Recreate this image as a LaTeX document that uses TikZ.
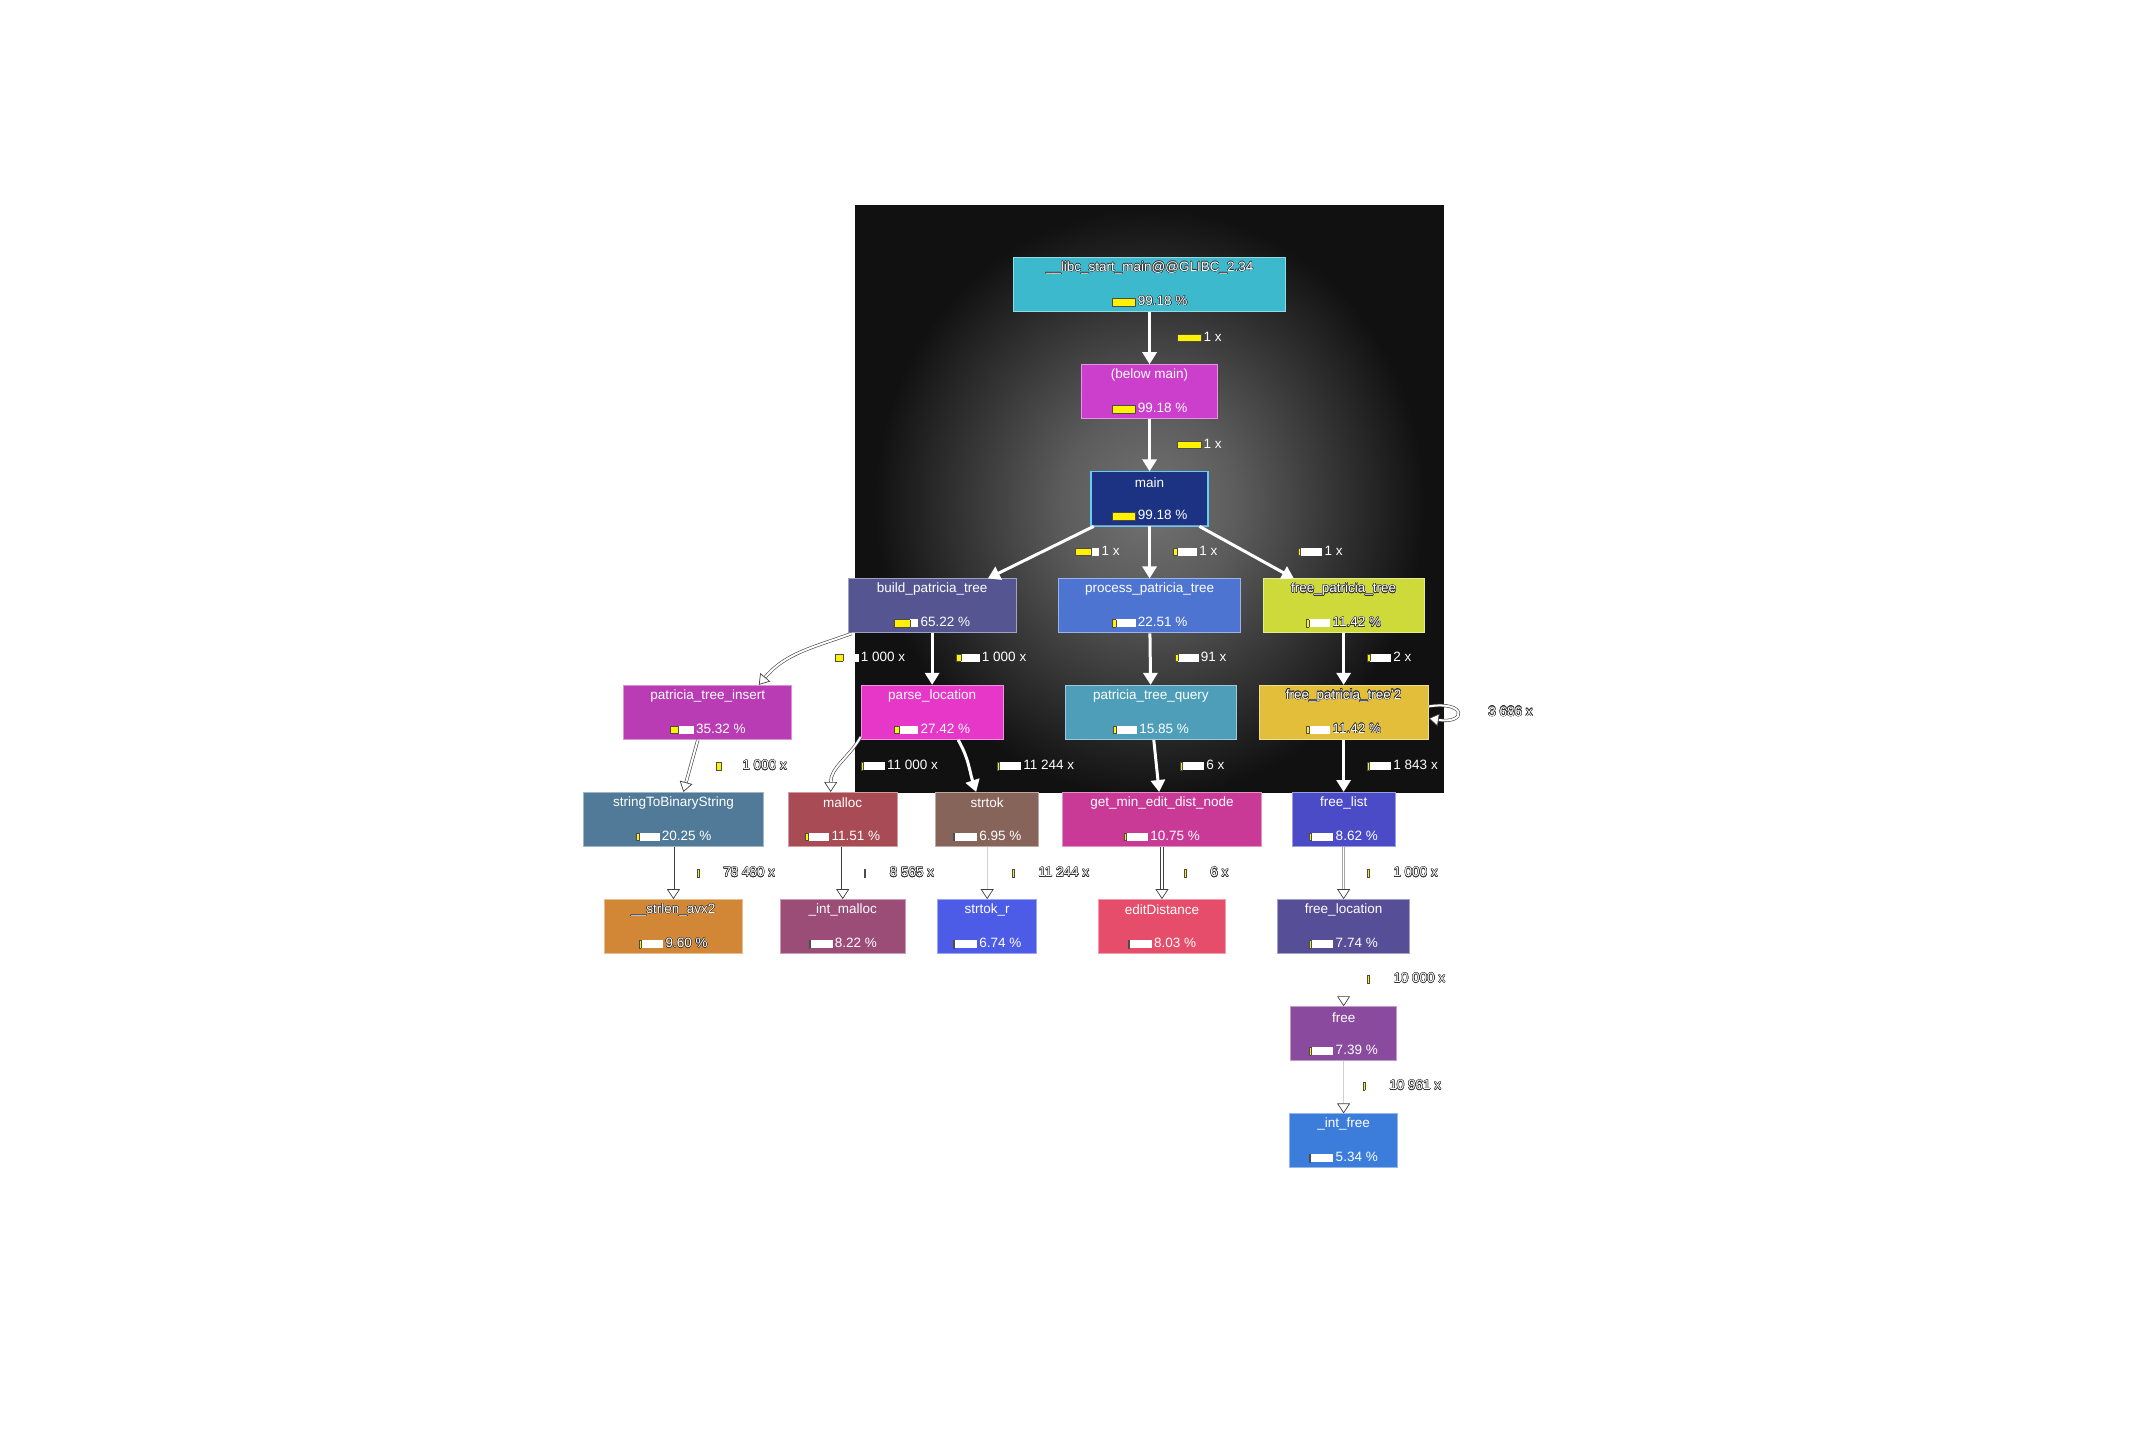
\documentclass[tikz,border=0pt]{standalone}
\usepackage{fontspec}
\setmainfont{Liberation Sans}
\usepackage{contour}
\contourlength{0.45pt}
\usetikzlibrary{arrows.meta, calc}

\definecolor{cyan1}{RGB}{60, 185, 205}
\definecolor{magenta1}{RGB}{204, 62, 204}
\definecolor{navy1}{RGB}{28, 50, 130}
\definecolor{slate1}{RGB}{84, 85, 145}
\definecolor{blue1}{RGB}{78, 116, 210}
\definecolor{lime1}{RGB}{205, 218, 58}
\definecolor{purple1}{RGB}{185, 60, 180}
\definecolor{pink1}{RGB}{230, 55, 200}
\definecolor{teal1}{RGB}{78, 158, 185}
\definecolor{gold1}{RGB}{226, 190, 58}
\definecolor{steel1}{RGB}{80, 122, 152}
\definecolor{brick1}{RGB}{168, 75, 85}
\definecolor{brown1}{RGB}{135, 100, 90}
\definecolor{rose1}{RGB}{200, 58, 150}
\definecolor{indigo1}{RGB}{75, 75, 200}
\definecolor{orange1}{RGB}{210, 135, 55}
\definecolor{plum1}{RGB}{155, 77, 120}
\definecolor{royal1}{RGB}{76, 92, 230}
\definecolor{coral1}{RGB}{230, 77, 106}
\definecolor{dusk1}{RGB}{87, 78, 152}
\definecolor{orchid1}{RGB}{138, 75, 158}
\definecolor{sky1}{RGB}{60, 125, 220}
\definecolor{panel1}{RGB}{17, 17, 17}

\pgfdeclareradialshading{glow}{\pgfpointorigin}{%
  color(0bp)=(black!55); color(8bp)=(black!64); color(16bp)=(black!78);
  color(25bp)=(panel1); color(50bp)=(panel1)}

\newlength\barw
\setlength\barw{23pt}
\newcommand{\cbar}[1]{\begingroup\setlength\fboxsep{0pt}\setlength\fboxrule{0.5pt}%
  \colorbox{white}{\fcolorbox{black!70}{yellow}{\rule{0pt}{7pt}\hspace{#1\barw}}\hspace{\dimexpr\barw-#1\barw\relax}}\endgroup}
\newcommand{\hollow}[1]{\contour{black!80}{#1}}

\tikzset{
  fnbox/.style={rectangle, minimum height=54pt, inner sep=0pt, line width=1pt},
  fntext/.style={text=white, font=\fontsize{13.5}{15}\selectfont, inner sep=0pt},
  elab/.style={text=white, font=\fontsize{13.5}{15}\selectfont, inner sep=0pt},
  mainring/.style={draw=cyan!60!white, line width=1.6pt},
  callin/.style={draw=white, line width=3pt, -{Triangle[width=14pt, length=12pt]}},
  callout/.style={draw=black!75, double=white, line width=0.6pt, double distance=2pt,
    -{Triangle[open, width=13pt, length=10pt, line width=0.7pt, fill=white]}},
  callpale/.style={draw=black!35, double=white, line width=0.5pt, double distance=1.5pt,
    -{Triangle[open, width=13pt, length=10pt, line width=0.7pt, color=black!75, fill=white]}},
  callfaint/.style={draw=black!18, line width=1.3pt,
    -{Triangle[open, width=13pt, length=10pt, line width=0.7pt, color=black!75, fill=white]}},
  callghost/.style={draw=white, line width=1pt,
    -{Triangle[open, width=13pt, length=10pt, line width=0.7pt, color=black!75, fill=white]}},
}

% id, x, y, width, colour, name, bar, cost
\newcommand{\callnode}[8]{%
  \node[fnbox, fill=#5, draw=#5!55!white, minimum width={#4*1.376pt}] (#1) at (#2,#3) {};
  \node[fntext] (#1-name) at ([yshift=-11pt]#1.north) {#6};
  \node[fntext] (#1-cost) at ([yshift=11pt]#1.south) {\cbar{#7}\,#8};
}

\begin{document}
\begin{tikzpicture}[x=1.3762pt, y=-1.3733pt]
  \useasboundingbox (0.68,-0.24) rectangle (1567.3,1040.3);
  \fill[white] (0.68,-0.24) rectangle (1567.3,1040.3);

  % dark panel with glow
  \fill[panel1] (622,149) rectangle (1050,577);
  \begin{scope}
    \clip (622,149) rectangle (1050,577);
    \shade[shading=glow] (836,366) ellipse [x radius=200, y radius=214];
  \end{scope}

  % functions
  \callnode{libc}{836}{207}{198}{cyan1}{\hollow{\_\_libc\_start\_main@@GLIBC\_2.34}}{1}{\hollow{99.18 \%}}
  \callnode{below}{836}{285}{99}{magenta1}{(below main)}{1}{99.18 \%}
  \callnode{main}{836}{363}{84}{navy1}{main}{1}{99.18 \%}
  \draw[mainring] (main.south west) rectangle (main.north east);
  \callnode{build}{678}{441}{122}{slate1}{build\_patricia\_tree}{.65}{65.22 \%}
  \callnode{process}{836}{441}{132}{blue1}{process\_patricia\_tree}{.15}{22.51 \%}
  \callnode{freept}{977}{441}{117}{lime1}{\hollow{free\_patricia\_tree}}{.08}{\hollow{11.42 \%}}
  \callnode{insert}{515}{518.5}{122}{purple1}{patricia\_tree\_insert}{.33}{35.32 \%}
  \callnode{parse}{678}{518.5}{103}{pink1}{parse\_location}{.2}{27.42 \%}
  \callnode{query}{837}{518.5}{124}{teal1}{patricia\_tree\_query}{.12}{15.85 \%}
  \callnode{freept2}{977}{518.5}{123}{gold1}{\hollow{free\_patricia\_tree'2}}{.08}{\hollow{11.42 \%}}
  \callnode{str2bin}{490}{596.5}{131}{steel1}{stringToBinaryString}{.12}{20.25 \%}
  \callnode{malloc}{613}{596.5}{79}{brick1}{malloc}{.08}{11.51 \%}
  \callnode{strtok}{718}{596.5}{75}{brown1}{strtok}{.03}{6.95 \%}
  \callnode{getmin}{845}{596.5}{144}{rose1}{get\_min\_edit\_dist\_node}{.06}{10.75 \%}
  \callnode{freelist}{977}{596.5}{75}{indigo1}{free\_list}{.05}{8.62 \%}
  \callnode{strlen}{490}{674.5}{100}{orange1}{\hollow{\_\_strlen\_avx2}}{.05}{\hollow{9.60 \%}}
  \callnode{intmalloc}{613}{674.5}{91}{plum1}{\_int\_malloc}{.04}{8.22 \%}
  \callnode{strtokr}{718}{674.5}{72}{royal1}{strtok\_r}{.03}{6.74 \%}
  \callnode{editdist}{845}{674.5}{92}{coral1}{editDistance}{.04}{8.03 \%}
  \callnode{freeloc}{977}{674.5}{96}{dusk1}{free\_location}{.04}{7.74 \%}
  \callnode{free}{977}{752.5}{77}{orchid1}{free}{.03}{7.39 \%}
  \callnode{intfree}{977}{830.5}{78}{sky1}{\_int\_free}{.02}{5.34 \%}

  % calls
  \draw[callin] (libc) -- (below);
  \draw[callin] (below) -- (main);
  \draw[callin] (main) -- (build);
  \draw[callin] (main) -- (process);
  \draw[callin] (main) -- (freept);
  \draw[callin] (build) -- (parse);
  \draw[callin] (process) -- (query);
  \draw[callin] (freept) -- (freept2);
  \draw[callin] (query) -- (getmin);
  \draw[callin] (freept2) -- (freelist);
  \draw[callin] ([xshift=26pt]parse.south) to[out=-60, in=108] ([xshift=-11pt]strtok.north);
  \draw[callout] ([xshift=4pt]build.south west) to[out=200, in=50] ([xshift=51pt]insert.north);
  \draw[callout] ([xshift=-10pt]insert.south) -- ([xshift=10pt]str2bin.north);
  \draw[callout] ([yshift=3pt]parse.south west) to[out=240, in=90] ([xshift=-12pt]malloc.north);
  \draw[callout] (str2bin) -- (strlen);
  \draw[callout] (malloc) -- (intmalloc);
  \draw[callout] (getmin) -- (editdist);
  \draw[callpale] (freelist) -- (freeloc);
  \draw[callghost] (freeloc) -- (free);
  \draw[callfaint] (strtok) -- (strtokr);
  \draw[callfaint] (free) -- (intfree);
  \draw[callout] ([yshift=6pt]freept2.east) .. controls +(38pt,6pt) and +(38pt,-6pt) .. ([yshift=-6pt]freept2.east);

  % call counts
  \node[elab, anchor=west] (c-libc) at (856,245) {\cbar{1}\,1 x};
  \node[elab, anchor=west] (c-below) at (856,323) {\cbar{1}\,1 x};
  \node[elab, anchor=west] (c-build) at (782,401) {\cbar{.65}\,1 x};
  \node[elab, anchor=west] (c-process) at (853,401) {\cbar{.15}\,1 x};
  \node[elab, anchor=west] (c-freept) at (944,401) {\cbar{.06}\,1 x};
  \node[elab, anchor=west] (c-insert) at (607,478) {\cbar{.33}\,1 000 x};
  \node[elab, anchor=west] (c-parse) at (695,478) {\cbar{.2}\,1 000 x};
  \node[elab, anchor=west] (c-query) at (854,478) {\cbar{.12}\,91 x};
  \node[elab, anchor=west] (c-freept2) at (994,478) {\cbar{.08}\,2 x};
  \node[elab, anchor=west] (c-loop) at (1082,518) {\hollow{3 686 x}};
  \node[elab, anchor=west] (c-str2bin) at (521,557) {\cbar{.2}\,\hollow{1 000 x}};
  \node[elab, anchor=west] (c-malloc) at (626,557) {\cbar{.06}\,11 000 x};
  \node[elab, anchor=west] (c-strtok) at (725,557) {\cbar{.06}\,11 244 x};
  \node[elab, anchor=west] (c-getmin) at (858,557) {\cbar{.08}\,6 x};
  \node[elab, anchor=west] (c-freelist) at (994,557) {\cbar{.06}\,1 843 x};
  \node[elab, anchor=west] (c-strlen) at (507,635) {\cbar{.08}\,\hollow{78 480 x}};
  \node[elab, anchor=west] (c-intmalloc) at (628,635) {\cbar{.06}\,\hollow{8 565 x}};
  \node[elab, anchor=west] (c-strtokr) at (736,635) {\cbar{.06}\,\hollow{11 244 x}};
  \node[elab, anchor=west] (c-editdist) at (861,635) {\cbar{.06}\,\hollow{6 x}};
  \node[elab, anchor=west] (c-freeloc) at (994,635) {\cbar{.06}\,\hollow{1 000 x}};
  \node[elab, anchor=west] (c-free) at (994,712) {\cbar{.06}\,\hollow{10 000 x}};
  \node[elab, anchor=west] (c-intfree) at (991,790) {\cbar{.05}\,\hollow{10 961 x}};
\end{tikzpicture}
\end{document}
